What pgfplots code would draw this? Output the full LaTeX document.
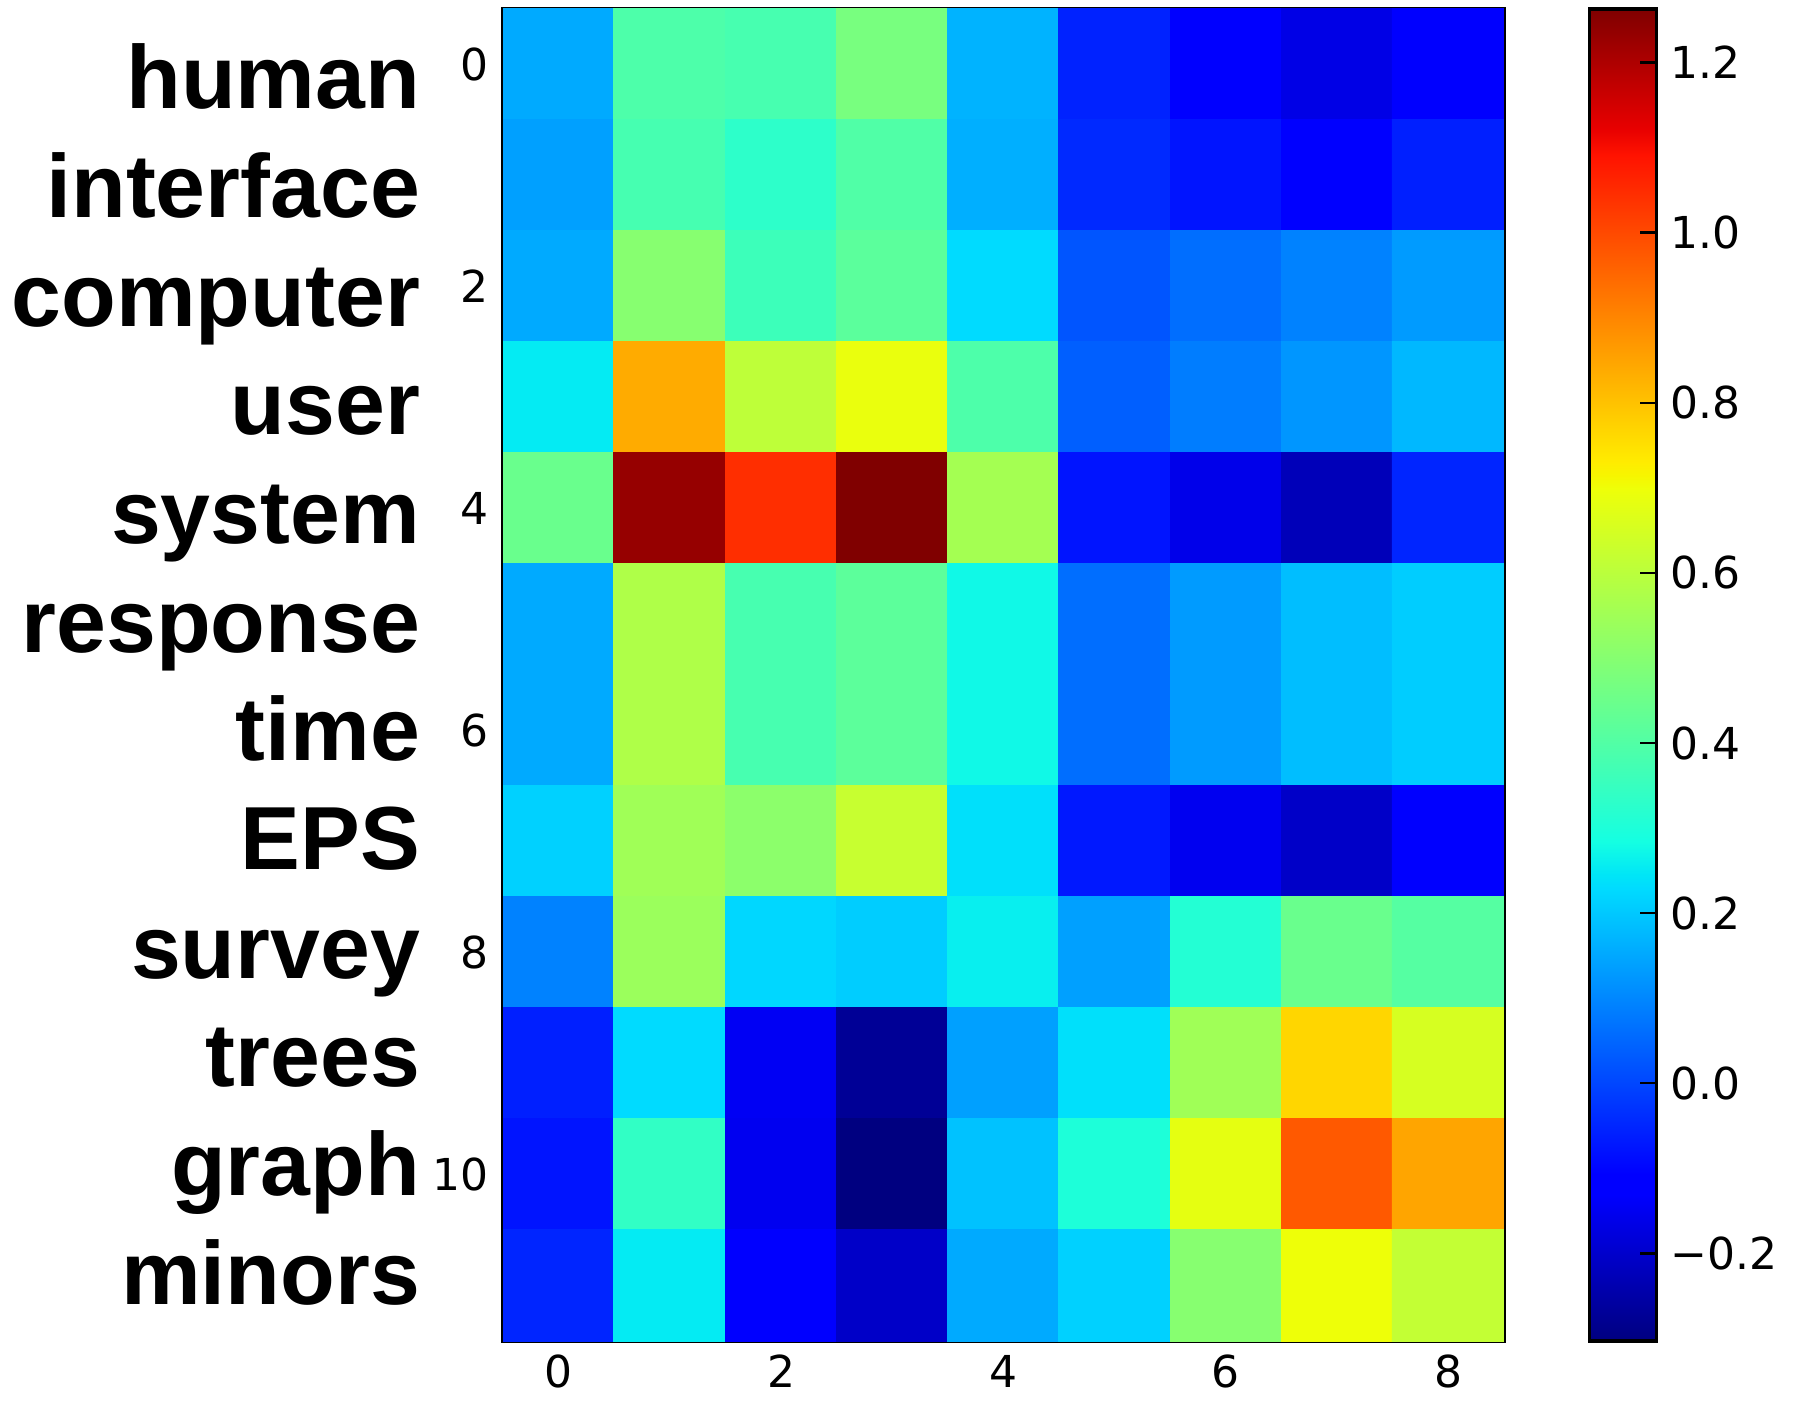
\documentclass[border=0pt]{standalone}
\usepackage{fontspec}
\setmainfont{Liberation Sans}
\newfontfamily\tickfont{DejaVu Sans}
\usepackage{pgfplots}
\usepackage{pgfplotstable}
\pgfplotsset{compat=1.18}
\pgfplotsset{colormap={mpljet}{[1pt] rgb(0pt)=(0,0,0.5); rgb(110pt)=(0,0,1); rgb(125pt)=(0,0,1); rgb(340pt)=(0,0.86,1); rgb(350pt)=(0,0.9,0.968); rgb(375pt)=(0.0806,1,0.887); rgb(640pt)=(0.935,1,0.0323); rgb(650pt)=(0.968,0.963,0); rgb(660pt)=(1,0.926,0); rgb(890pt)=(1,0.074,0); rgb(910pt)=(0.909,0,0); rgb(1000pt)=(0.5,0,0)}}
\pgfplotstableread{
x y c
0 0 0.154
1 0 0.391
2 0 0.380
3 0 0.474
4 0 0.167
5 0 -0.055
6 0 -0.125
7 0 -0.165
8 0 -0.120
0 1 0.138
1 1 0.378
2 1 0.331
3 1 0.397
4 1 0.162
5 1 -0.045
6 1 -0.076
7 1 -0.120
8 1 -0.060
0 2 0.154
1 2 0.502
2 2 0.360
3 2 0.418
4 2 0.229
5 2 0.023
6 2 0.062
7 2 0.092
8 2 0.131
0 3 0.253
1 3 0.839
2 3 0.607
3 3 0.691
4 3 0.391
5 3 0.038
6 3 0.084
7 3 0.123
8 3 0.176
0 4 0.446
1 4 1.232
2 4 1.045
3 4 1.263
4 4 0.558
5 4 -0.076
6 4 -0.159
7 4 -0.225
8 4 -0.050
0 5 0.154
1 5 0.578
2 5 0.380
3 5 0.420
4 5 0.275
5 5 0.062
6 5 0.131
7 5 0.184
8 5 0.207
0 6 0.154
1 6 0.578
2 6 0.380
3 6 0.420
4 6 0.275
5 6 0.062
6 6 0.131
7 6 0.184
8 6 0.207
0 7 0.214
1 7 0.550
2 7 0.511
3 7 0.624
4 7 0.237
5 7 -0.070
6 7 -0.151
7 7 -0.205
8 7 -0.130
0 8 0.092
1 8 0.540
2 8 0.223
3 8 0.207
4 8 0.260
5 8 0.138
6 8 0.311
7 8 0.446
8 8 0.407
0 9 -0.060
1 9 0.229
2 9 -0.145
3 9 -0.272
4 9 0.138
5 9 0.237
6 9 0.550
7 9 0.767
8 9 0.652
0 10 -0.076
1 10 0.339
2 10 -0.151
3 10 -0.303
4 10 0.191
5 10 0.301
6 10 0.682
7 10 0.975
8 10 0.848
0 11 -0.050
1 11 0.253
2 11 -0.125
3 11 -0.205
4 11 0.154
5 11 0.214
6 11 0.502
7 11 0.699
8 11 0.616
}\heatdata
\begin{document}
\begin{tikzpicture}[x=1pt,y=1pt]
\path[use as bounding box] (0,0) rectangle (448.5,353);
\begin{axis}[
  at={(125.75pt,17.75pt)}, anchor=south west,
  scale only axis, width=250.25pt, height=333pt,
  xmin=-0.5, xmax=8.5, ymin=-0.5, ymax=11.5, y dir=reverse,
  axis line style={line width=0.8pt},
  tick align=inside, major tick length=4.2pt,
  tick style={line width=0.6pt, black},
  xtick={0,2,4,6,8}, xticklabels={0,2,4,6,8},
  ytick={0,2,4,6,8,10}, yticklabels={0,2,4,6,8,10},
  tick label style={font=\tickfont\fontsize{11}{13}\selectfont},
  colormap name=mpljet,
  point meta min=-0.303, point meta max=1.263,
  colorbar,
  colorbar/width=16.75pt,
  colorbar style={
    at={(parent axis.north east)}, anchor=north west, xshift=12.9pt,
    scale only axis, width=16.75pt, height=333pt,
    axis line style={line width=0.8pt},
    ytick={-0.2,0,0.2,0.4,0.6,0.8,1.0,1.2},
    yticklabels={−0.2,0.0,0.2,0.4,0.6,0.8,1.0,1.2},
    ytick pos=right, yticklabel pos=right,
    tick align=inside, major tick length=4.2pt,
    tick style={line width=0.6pt, black},
    yticklabel style={font=\tickfont\fontsize{11}{13}\selectfont},
  },
]
\addplot[matrix plot*, mesh/cols=9, point meta=explicit] table[x=x, y=y, meta=c] {\heatdata};
\end{axis}
\begin{scope}[every node/.style={anchor=base east, inner sep=0pt, font=\bfseries\fontsize{22.4}{26}\selectfont}]
\node at (105.2,325.825) {human};
\node at (105.2,298.65) {interface};
\node at (105.2,271.475) {computer};
\node at (105.2,244.3) {user};
\node at (105.2,217.125) {system};
\node at (105.2,189.95) {response};
\node at (105.2,162.775) {time};
\node at (105.2,135.6) {EPS};
\node at (105.2,108.425) {survey};
\node at (105.2,81.25) {trees};
\node at (105.2,54.075) {graph};
\node at (105.2,26.9) {minors};
\end{scope}
\end{tikzpicture}
\end{document}
